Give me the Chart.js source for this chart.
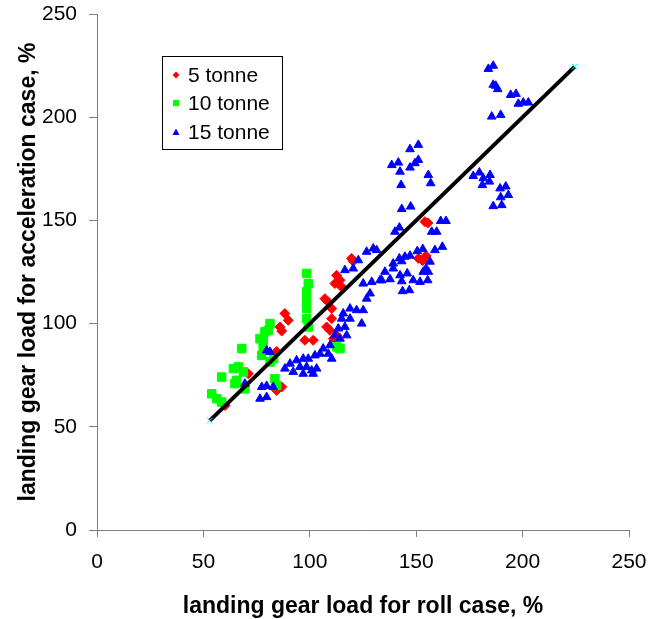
<!DOCTYPE html>
<html>
<head>
<meta charset="utf-8">
<title>Landing gear load: acceleration vs roll</title>
<script src="https://cdn.jsdelivr.net/npm/chart.js@4.4.1/dist/chart.umd.min.js"></script>
<style>
  html, body { margin: 0; padding: 0; background: #fff; }
  #wrap { width: 649px; height: 619px; }
</style>
</head>
<body>
<div id="wrap"><canvas id="gearChart" width="649" height="619"></canvas></div>
<script>
// Axis ticks (%)
const tickValues = [0, 50, 100, 150, 200, 250];

// 5 tonne: roll case load vs acceleration case load (%)
const roll5 = [60.2, 71.1, 84.4, 86.8, 84.4, 86.0, 86.8, 88.3, 89.9, 97.7,
  101.6, 107.1, 108.7, 110.3, 110.3, 107.9, 109.5, 112.6, 111.1, 112.6,
  114.2, 111.8, 114.9, 119.6, 120.4, 151.0, 154.6, 153.0, 154.1, 155.5];
const accel5 = [60.3, 75.7, 67.6, 69.3, 86.5, 98.4, 96.4, 104.9, 101.6, 91.9,
  91.9, 112.1, 110.5, 107.3, 102.4, 98.4, 96.7, 94.3, 92.7, 123.4,
  121.0, 119.4, 117.8, 131.6, 130.2, 131.6, 132.9, 130.5, 149.4, 148.8];

// 10 tonne
const roll10 = [53.9, 56.3, 58.6, 58.6, 64.1, 66.4, 68.8, 65.6, 64.8, 69.5,
  68.0, 77.4, 78.1, 78.1, 78.9, 81.3, 80.5, 81.3, 83.0, 83.6,
  84.4, 98.5, 99.3, 98.5, 98.5, 98.5, 98.5, 99.3, 112.6, 114.2, 76.6];
const accel10 = [66.0, 63.6, 62.0, 74.1, 78.2, 79.0, 76.6, 72.5, 70.9, 68.4,
  87.9, 84.6, 88.7, 91.9, 96.0, 100.0, 96.7, 81.4, 83.0, 73.3,
  70.0, 124.3, 119.4, 115.4, 111.3, 107.3, 102.4, 98.4, 88.7, 87.9, 92.7];

// 15 tonne
const roll15 = [
  183.9, 186.2, 186.2, 187.4, 188.3, 194.4, 196.9, 198.0, 200.3, 202.7,
  185.5, 189.7, 176.8, 179.7, 181.5, 184.7, 184.4, 181.1, 189.4, 192.1,
  193.3, 189.7, 186.2, 190.2,
  147.1, 151.0, 138.5, 141.6, 142.4, 147.1, 149.4, 151.0, 155.7, 156.8,
  142.9, 143.2, 147.4, 140.0, 142.1, 161.5, 164.0, 157.3, 159.6, 158.8,
  162.3, 150.5, 153.1, 139.2, 142.1, 144.7, 147.1, 143.2, 156.5, 154.6,
  153.3, 155.7, 135.3, 139.2, 133.8, 137.7, 142.4, 145.8, 143.2, 148.6,
  151.8, 155.4, 143.6, 146.8,
  126.7, 129.8, 131.4, 122.8, 120.4, 116.5, 125.1, 129.1, 133.0, 126.7,
  128.3, 118.9, 115.7, 122.0, 125.1, 115.0, 118.9, 124.4, 113.4, 116.5,
  117.3, 114.2, 111.8, 109.5, 106.3, 108.7, 104.8, 102.4, 110.3, 88.3,
  90.7, 93.8, 96.9, 99.3, 95.4, 98.5, 100.9, 103.2, 96.9, 101.6, 92.2,
  81.3, 69.5, 77.4, 79.7, 82.8, 76.6, 79.7, 79.7];
const accel15 = [
  223.4, 224.9, 215.7, 215.2, 213.6, 210.8, 211.3, 206.5, 207.1, 207.1,
  200.3, 201.1, 171.5, 173.2, 170.4, 172.0, 168.8, 167.1, 165.5, 166.4,
  162.3, 161.2, 156.9, 157.4,
  184.5, 186.6, 176.8, 178.0, 173.6, 175.6, 177.7, 179.3, 172.0, 168.0,
  167.1, 155.5, 156.7, 144.5, 146.5, 149.7, 149.7, 144.5, 144.5, 135.6,
  137.2, 135.1, 136.1, 129.1, 131.6, 132.4, 132.9, 130.2, 130.0, 126.7,
  125.1, 125.1, 125.1, 126.7, 121.0, 121.5, 123.4, 124.3, 120.5, 121.0,
  120.2, 121.0, 115.7, 116.2,
  134.8, 136.4, 135.6, 130.7, 126.7, 125.9, 119.4, 120.2, 121.0, 112.1,
  114.6, 107.3, 104.9, 106.5, 106.5, 102.4, 102.4, 100.0, 97.6, 98.4,
  94.3, 92.7, 94.3, 89.5, 87.9, 85.4, 85.4, 84.6, 83.0, 78.2,
  80.6, 82.2, 83.0, 83.0, 79.0, 79.0, 77.3, 78.2, 75.7, 75.7, 76.6,
  86.3, 70.9, 69.3, 69.8, 69.3, 63.6, 64.4, 87.0];

// 1:1 reference line ends
const lineEnds = [53, 224.5];

const toPoints = (xs, ys) => xs.map((x, i) => ({ x: x, y: ys[i] }));

const seriesNames = ['5 tonne', '10 tonne', '15 tonne'];
const seriesColors = ['#ff0000', '#00ff00', '#0000ff'];
const seriesStyles = ['rectRot', 'rect', 'triangle'];

// Legend box inside the plot, Excel style
const boxLegend = {
  id: 'boxLegend',
  afterDraw(chart) {
    const ctx = chart.ctx;
    ctx.save();
    ctx.strokeStyle = '#000';
    ctx.lineWidth = 1;
    ctx.strokeRect(162.5, 56.5, 120, 93);
    const rows = [75, 103, 132];
    ctx.font = '21px "Liberation Sans", Arial, sans-serif';
    ctx.textBaseline = 'alphabetic';
    rows.forEach((cy, i) => {
      const cx = 176;
      ctx.fillStyle = seriesColors[i];
      ctx.beginPath();
      if (i === 0) {
        ctx.moveTo(cx, cy - 3.5); ctx.lineTo(cx + 3.5, cy);
        ctx.lineTo(cx, cy + 3.5); ctx.lineTo(cx - 3.5, cy);
      } else if (i === 1) {
        ctx.rect(cx - 3, cy - 3, 6, 6);
      } else {
        ctx.moveTo(cx, cy - 3.5); ctx.lineTo(cx + 3.5, cy + 3);
        ctx.lineTo(cx - 3.5, cy + 3);
      }
      ctx.closePath();
      ctx.fill();
      ctx.fillStyle = '#000';
      ctx.fillText(seriesNames[i], 188, cy + 7);
    });
    ctx.restore();
  }
};

const scatterSet = (i, xs, ys, radius, order) => ({
  label: seriesNames[i],
  data: toPoints(xs, ys),
  pointStyle: seriesStyles[i],
  pointRadius: radius,
  pointHoverRadius: radius,
  backgroundColor: seriesColors[i],
  borderColor: seriesColors[i],
  borderWidth: 1,
  showLine: false,
  order: order
});

const axisFont = { family: '"Liberation Sans", Arial, sans-serif', size: 21 };
const titleFont = { family: '"Liberation Sans", Arial, sans-serif', size: 23, weight: 'bold' };

new Chart(document.getElementById('gearChart'), {
  type: 'scatter',
  data: {
    datasets: [
      scatterSet(0, roll5, accel5, 5, 4),
      scatterSet(1, roll10, accel10, 6, 3),
      scatterSet(2, roll15, accel15, 5, 2),
      {
        label: 'y = x',
        data: toPoints(lineEnds, lineEnds),
        showLine: true,
        borderColor: '#000',
        borderWidth: 4,
        pointStyle: 'crossRot',
        pointRadius: 4,
        pointBorderColor: '#00ffff',
        pointBorderWidth: 1,
        order: 1
      }
    ]
  },
  options: {
    responsive: false,
    animation: false,
    events: [],
    layout: { padding: { top: 14, right: 20, left: 0, bottom: 0 } },
    plugins: {
      legend: { display: false },
      tooltip: { enabled: false }
    },
    scales: {
      x: {
        type: 'linear',
        min: 0,
        max: 250,
        afterFit: s => {
          s.height = 89;
          s.paddingLeft = 0;
          s.paddingRight = 0;
        },
        afterBuildTicks: s => { s.ticks = tickValues.map(v => ({ value: v })); },
        ticks: { color: '#000', font: axisFont, padding: 13, maxRotation: 0 },
        grid: { drawOnChartArea: false, tickLength: 7, color: '#808080' },
        border: { color: '#808080', width: 1 },
        title: {
          display: true,
          text: 'landing gear load for roll case, %',
          color: '#000',
          font: titleFont,
          padding: { top: 0, bottom: -1 }
        }
      },
      y: {
        type: 'linear',
        min: 0,
        max: 250,
        afterFit: s => {
          s.width = 97;
          s.paddingTop = 0;
          s.paddingBottom = 0;
        },
        afterBuildTicks: s => { s.ticks = tickValues.map(v => ({ value: v })); },
        ticks: { color: '#000', font: axisFont, padding: 12 },
        grid: { drawOnChartArea: false, tickLength: 8, color: '#808080' },
        border: { color: '#808080', width: 1 },
        title: {
          display: true,
          text: 'landing gear load for acceleration case, %',
          color: '#000',
          font: titleFont,
          padding: { top: 15, bottom: 0 }
        }
      }
    }
  },
  plugins: [boxLegend]
});
</script>
</body>
</html>
